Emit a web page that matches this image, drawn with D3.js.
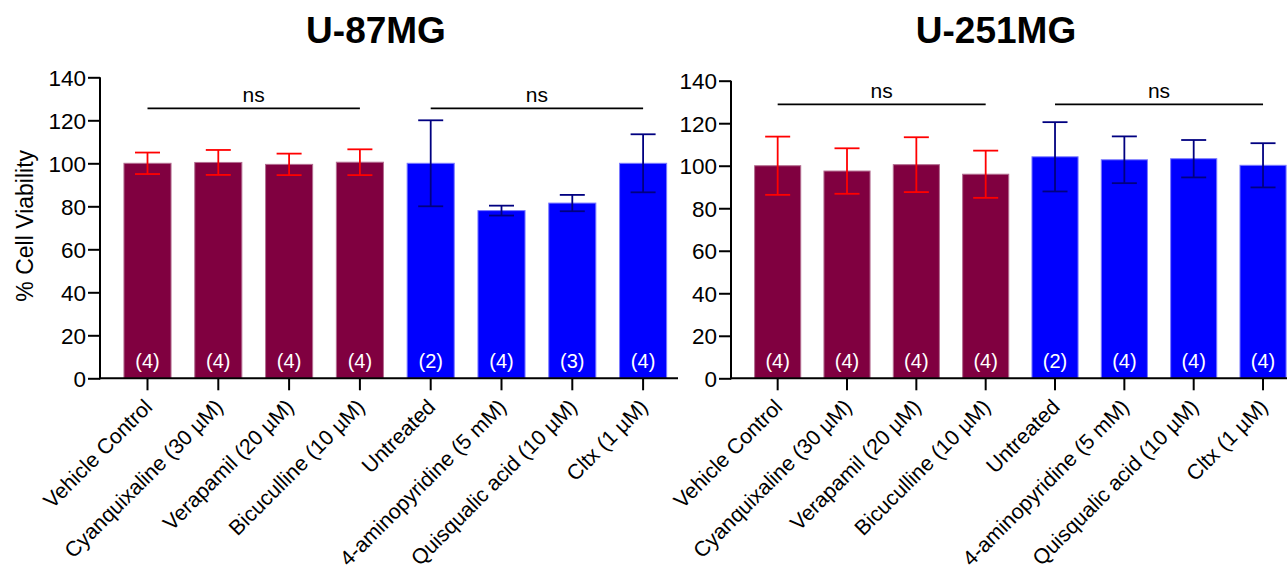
<!DOCTYPE html>
<html>
<head>
<meta charset="utf-8">
<script src="https://cdn.jsdelivr.net/npm/d3@7"></script>
<style>
  body { margin: 0; background: #fff; }
  svg { display: block; font-family: Arial, "Liberation Sans", sans-serif; }
</style>
</head>
<body>
<svg id="chart" width="1287" height="575"></svg>
<script>
// data
var categories = ["Vehicle Control", "Cyanquixaline (30 \u00b5M)", "Verapamil (20 \u00b5M)", "Bicuculline (10 \u00b5M)",
  "Untreated", "4-aminopyridine (5 mM)", "Quisqualic acid (10 \u00b5M)", "Cltx (1 \u00b5M)"];
var treatmentGroup = ["vehicle", "vehicle", "vehicle", "vehicle", "untreated", "untreated", "untreated", "untreated"];
var u87Mean = [100, 100.4, 99.5, 100.5, 100, 78, 81.5, 100];
var u87Err = [5, 5.8, 5, 6, 20, 2.3, 3.8, 13.5];
var u87N = [4, 4, 4, 4, 2, 4, 3, 4];
var u251Mean = [100, 97.5, 100.5, 96, 104.2, 102.8, 103.3, 100.2];
var u251Err = [13.7, 10.7, 12.9, 11.1, 16.3, 11, 8.8, 10.4];
var u251N = [4, 4, 4, 4, 2, 4, 4, 4];
var yTicks = [0, 20, 40, 60, 80, 100, 120, 140];
var nsGroups = [[0, 3], [4, 7]];

var fillColor = { vehicle: "#800040", untreated: "#0000ff" };
var edgeColor = { vehicle: "#b36d90", untreated: "#7a7aff" };
var errColor = { vehicle: "#ff0000", untreated: "#000080" };

var svg = d3.select("#chart");

var panels = [
  { title: "U-87MG", mean: u87Mean, err: u87Err, n: u87N, axisX: 100, left: 112.1, right: 678.5, axisEnd: 678,
    yBottom: 378.3, yTop: 77.3, titleX: 376, nsY: 108.3, yLabel: true },
  { title: "U-251MG", mean: u251Mean, err: u251Err, n: u251N, axisX: 731, left: 743, right: 1297.7, axisEnd: 1287,
    yBottom: 378.3, yTop: 80.7, titleX: 996, nsY: 104.3, yLabel: false }
];

panels.forEach(function (p) {
  var g = svg.append("g");

  var x = d3.scaleBand().domain(categories).range([p.left, p.right]).paddingInner(0.335).paddingOuter(0.1675);
  var y = d3.scaleLinear().domain([0, 140]).range([p.yBottom, p.yTop]);

  //title
  g.append("text").attr("x", p.titleX).attr("y", 43).attr("text-anchor", "middle")
    .style("font-size", "37px").style("font-weight", "bold").text(p.title);

  //bars
  g.selectAll("rect.bar").data(categories).enter().append("rect").attr("class", "bar")
    .attr("x", function (d) { return x(d); })
    .attr("y", function (d, i) { return y(p.mean[i]); })
    .attr("width", x.bandwidth())
    .attr("height", function (d, i) { return y(0) - y(p.mean[i]); })
    .attr("fill", function (d, i) { return fillColor[treatmentGroup[i]]; })
    .attr("stroke", function (d, i) { return edgeColor[treatmentGroup[i]]; })
    .attr("stroke-width", 1);

  //error bars
  var capHalf = 12.5;
  var eb = g.selectAll("g.err").data(categories).enter().append("g").attr("class", "err")
    .attr("stroke", function (d, i) { return errColor[treatmentGroup[i]]; })
    .attr("stroke-width", 1.8);
  eb.append("line")
    .attr("x1", function (d) { return x(d) + x.bandwidth() / 2; })
    .attr("x2", function (d) { return x(d) + x.bandwidth() / 2; })
    .attr("y1", function (d, i) { return y(p.mean[i] - p.err[i]); })
    .attr("y2", function (d, i) { return y(p.mean[i] + p.err[i]); });
  [1, -1].forEach(function (s) {
    eb.append("line")
      .attr("x1", function (d) { return x(d) + x.bandwidth() / 2 - capHalf; })
      .attr("x2", function (d) { return x(d) + x.bandwidth() / 2 + capHalf; })
      .attr("y1", function (d, i) { return y(p.mean[i] + s * p.err[i]); })
      .attr("y2", function (d, i) { return y(p.mean[i] + s * p.err[i]); });
  });

  //n labels
  g.selectAll("text.n").data(categories).enter().append("text").attr("class", "n")
    .attr("x", function (d) { return x(d) + x.bandwidth() / 2; })
    .attr("y", y(0) - 10)
    .attr("text-anchor", "middle").attr("fill", "#fff").style("font-size", "20px")
    .text(function (d, i) { return "(" + p.n[i] + ")"; });

  //y axis
  var yAxis = d3.axisLeft(y).tickValues(yTicks).tickSize(12).tickPadding(2);
  var yg = g.append("g").attr("transform", "translate(" + p.axisX + ",0)").call(yAxis);
  yg.select(".domain").remove();
  yg.append("line").attr("y1", y(0) + 1).attr("y2", y(140)).attr("stroke", "#000").attr("stroke-width", 2);
  yg.selectAll(".tick line").attr("stroke-width", 2);
  yg.selectAll(".tick text").style("font-size", "22.5px").attr("fill", "#000").attr("dy", "0.36em");

  //x axis
  var xAxis = d3.axisBottom(x).tickSize(12).tickPadding(0);
  var xg = g.append("g").attr("transform", "translate(0," + y(0) + ")").call(xAxis);
  xg.select(".domain").remove();
  xg.append("line").attr("x1", p.axisX - 1).attr("x2", p.axisEnd).attr("stroke", "#000").attr("stroke-width", 2);
  xg.selectAll(".tick line").attr("stroke-width", 2);
  xg.selectAll(".tick text").style("font-size", "21.3px").attr("fill", "#000")
    .attr("text-anchor", "end").attr("x", 0).attr("y", 0).attr("dy", "0")
    .attr("transform", "translate(6,30) rotate(-45)");

  //significance brackets
  nsGroups.forEach(function (ng) {
    var xa = x(categories[ng[0]]) + x.bandwidth() / 2;
    var xb = x(categories[ng[1]]) + x.bandwidth() / 2;
    g.append("line").attr("x1", xa).attr("x2", xb).attr("y1", p.nsY).attr("y2", p.nsY)
      .attr("stroke", "#000").attr("stroke-width", 1.8);
    g.append("text").attr("x", (xa + xb) / 2).attr("y", p.nsY - 6).attr("text-anchor", "middle")
      .style("font-size", "21px").text("ns");
  });

  if (p.yLabel) {
    g.append("text").attr("transform", "translate(33," + (y(70) - 2) + ") rotate(-90)")
      .attr("text-anchor", "middle").style("font-size", "23px").text("% Cell Viability");
  }
});
</script>
</body>
</html>
